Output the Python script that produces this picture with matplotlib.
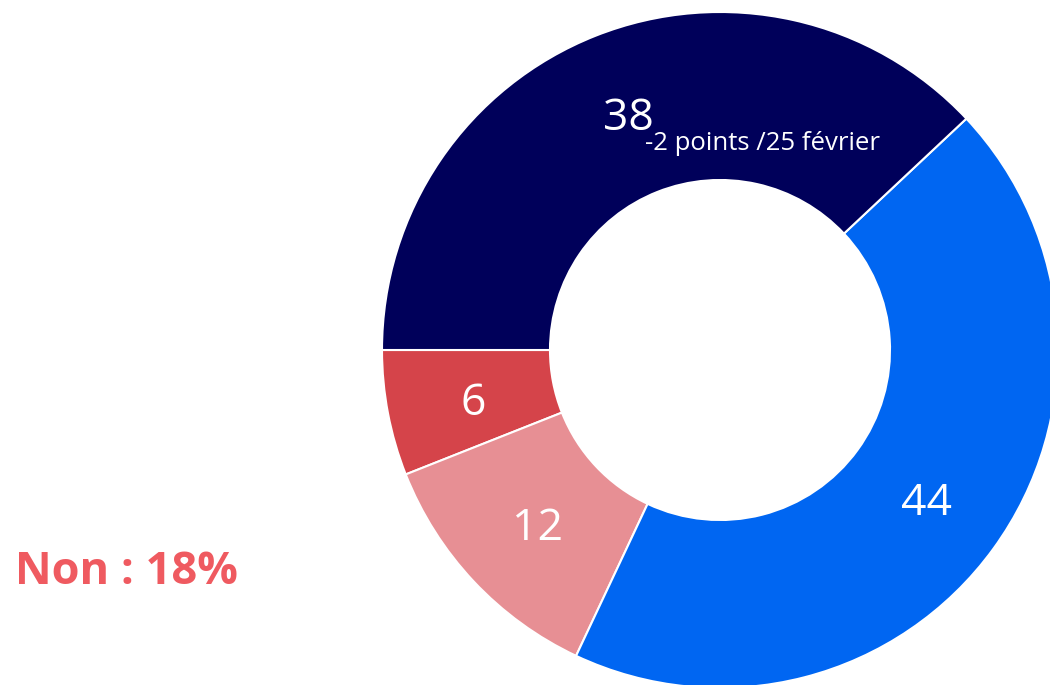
import matplotlib
matplotlib.use("Agg")
import matplotlib.pyplot as plt

values = [6, 12, 44, 38]
labels = ["6", "12", "44", "38"]
colors = ["#D5444A", "#E78F94", "#0066F2", "#00005A"]
note_38 = "-2 points /25 février"
side_text = "Non : 18%"

plt.rcParams['font.family'] = ['Open Sans', 'DejaVu Sans']

fig = plt.figure(figsize=(10.5, 6.85), dpi=100)
ax = fig.add_axes([0, 0, 1, 1])
cx, cy, R = 720, 685 - 350, 338
wedges, _ = ax.pie(values, colors=colors, startangle=180, counterclock=True,
                   center=(cx, cy), radius=R,
                   wedgeprops=dict(width=R * 0.497, edgecolor="white", linewidth=1.5))
ax.set_xlim(0, 1050)
ax.set_ylim(0, 685)
ax.axis("off")

fs = 32
ax.text(473, 685 - 404, labels[0], color="white", fontsize=fs, ha="center", va="center")
ax.text(537, 685 - 529, labels[1], color="white", fontsize=fs, ha="center", va="center")
ax.text(927, 685 - 504, labels[2], color="white", fontsize=fs, ha="center", va="center")
ax.text(628, 685 - 119, labels[3], color="white", fontsize=fs, ha="center", va="center")
ax.text(645, 685 - 143, note_38, color="white", fontsize=18.5, ha="left", va="center")

ax.text(15, 685 - 572, side_text, color="#EF5A60", fontsize=32.5, fontweight="bold",
        ha="left", va="center")

fig.savefig("out.png", dpi=100)
